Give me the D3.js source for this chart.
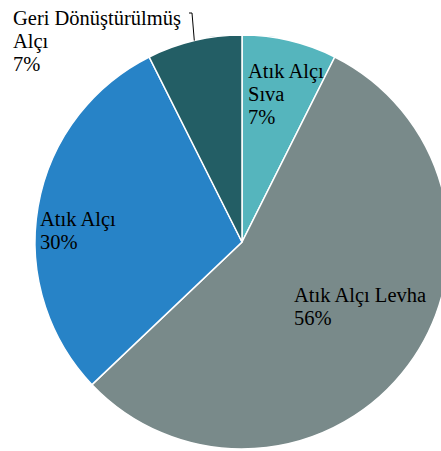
<!DOCTYPE html>
<html>
<head>
<meta charset="utf-8">
<script src="https://cdn.jsdelivr.net/npm/d3@7"></script>
<style>
  body { margin: 0; background: #fff; }
  svg { display: block; }
  .lbl { font-family: "Liberation Serif", "DejaVu Serif", serif; font-size: 20.5px; fill: #000; }
</style>
</head>
<body>
<svg id="svg" width="441" height="451"></svg>
<script>
const categories = ["Atık Alçı Sıva", "Atık Alçı Levha", "Atık Alçı", "Geri Dönüştürülmüş Alçı"];
const values = [7.4, 55.5, 29.7, 7.4];
const percentLabels = ["7%", "56%", "30%", "7%"];
// how each category name wraps inside its label
const labelLines = [["Atık Alçı", "Sıva"], ["Atık Alçı Levha"], ["Atık Alçı"], ["Geri Dönüştürülmüş", "Alçı"]];
const colors = ["#55b5bd", "#798a8a", "#2783c7", "#235e65"];

const width = 441;
const height = 451;
const cx = 242;
const cy = 242;
const radius = 207;
const lineHeight = 23;

// label first baseline relative to pie centre, placed by hand like in the original
const labelOffset = [[6, -164], [52, 60], [-202, -16], [-229, -217]];

const svg = d3.select("#svg");

const pie = d3.pie().sort(null).value(d => d)(values);
const arc = d3.arc().innerRadius(0).outerRadius(radius);

const g = svg.append("g").attr("transform", `translate(${cx}, ${cy})`);

g.selectAll("path.slice")
  .data(pie)
  .enter()
  .append("path")
  .attr("class", "slice")
  .attr("d", arc)
  .attr("fill", (d, i) => colors[i])
  .attr("stroke", "#fff")
  .attr("stroke-width", 1.5);

// leader line for the outside label, ends at the middle of its slice edge
const geri = pie[3];
const tip = d3.pointRadial((geri.startAngle + geri.endAngle) / 2, radius);
g.append("path")
  .attr("d", d3.line()([[-53, -229], [-50, -229], [tip[0], tip[1]]]))
  .attr("fill", "none")
  .attr("stroke", "#000")
  .attr("stroke-width", 1);

const labels = g.selectAll("text.lbl")
  .data(pie)
  .enter()
  .append("text")
  .attr("class", "lbl")
  .attr("x", (d, i) => labelOffset[i][0])
  .attr("y", (d, i) => labelOffset[i][1]);

labels.each(function (d, i) {
  const t = d3.select(this);
  const lines = labelLines[i].concat([percentLabels[i]]);
  lines.forEach((s, k) => {
    t.append("tspan")
      .attr("x", labelOffset[i][0])
      .attr("dy", k === 0 ? 0 : lineHeight)
      .text(s);
  });
});
</script>
</body>
</html>
